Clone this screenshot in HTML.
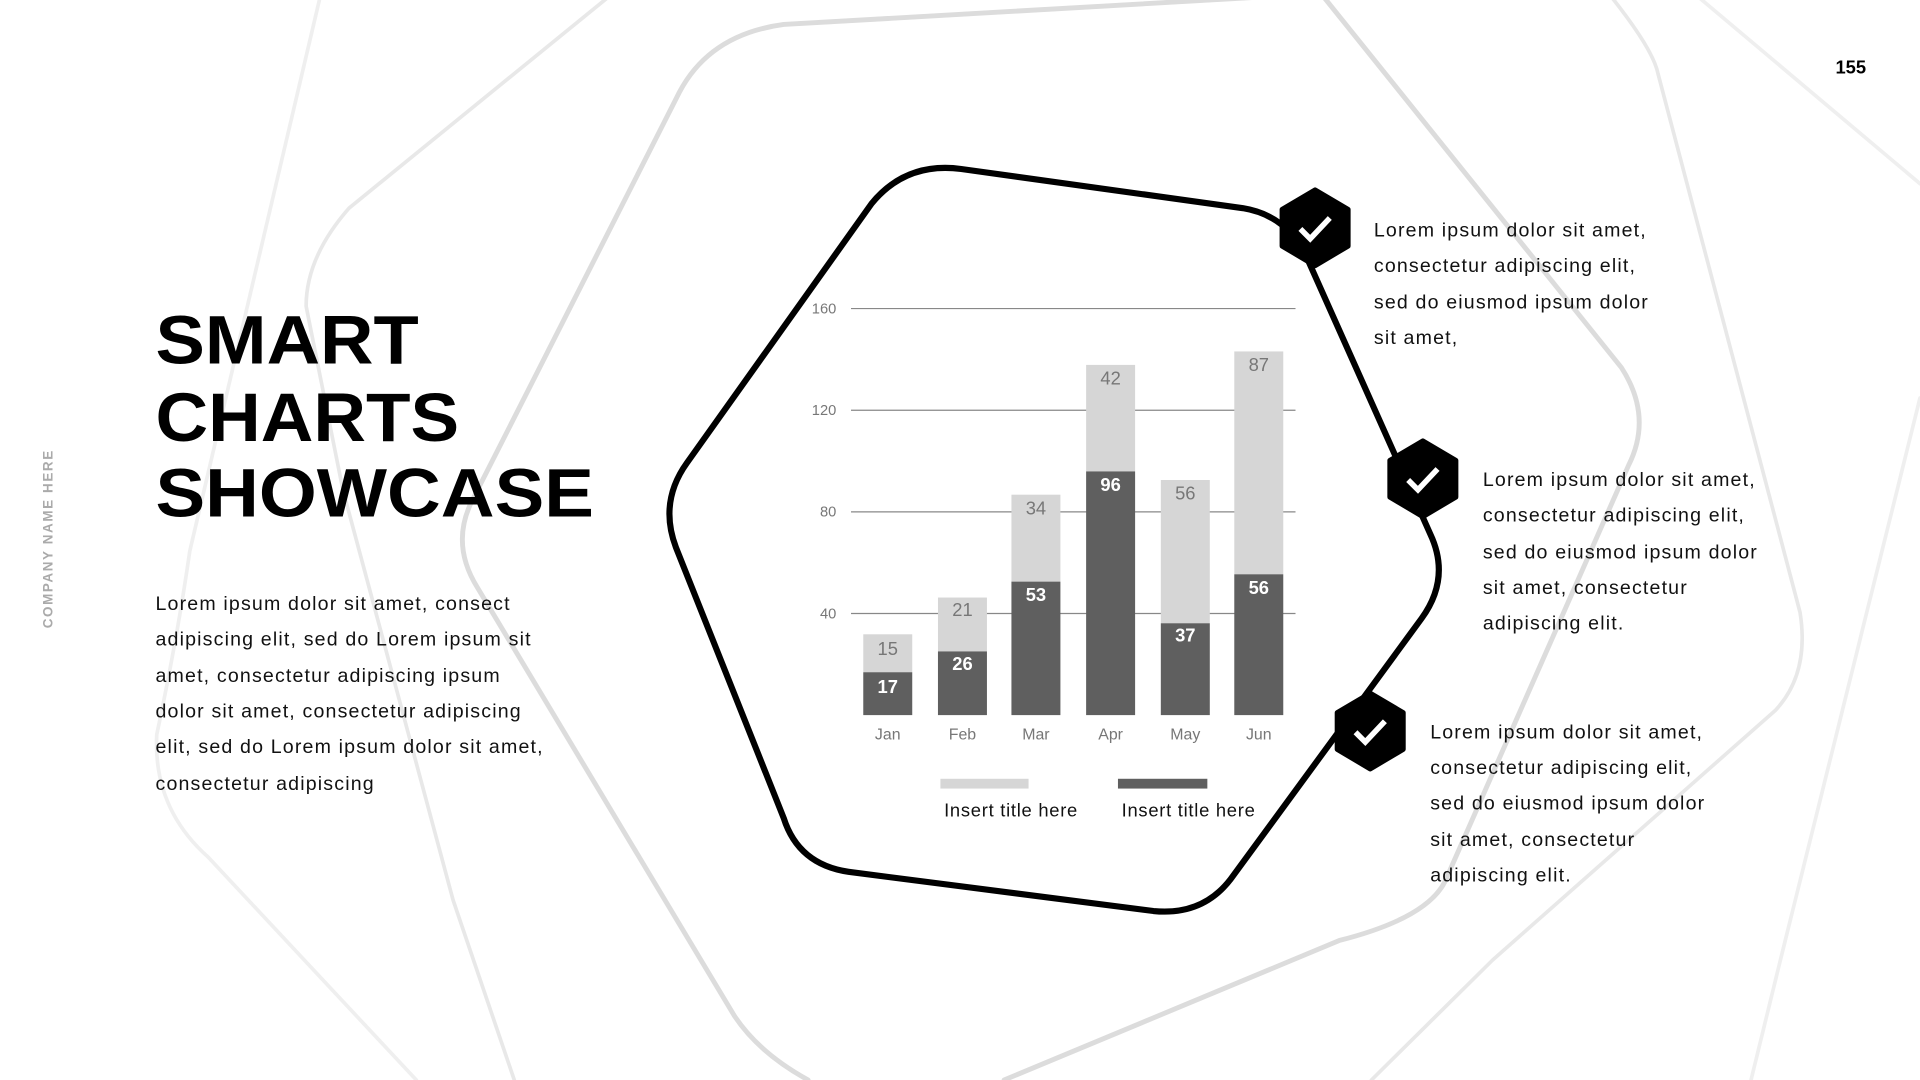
<!DOCTYPE html>
<html><head><meta charset="utf-8"><style>
html,body{margin:0;padding:0;background:#fff;}
svg{display:block;}
text{font-family:"Liberation Sans",sans-serif;}
</style></head><body>
<svg width="1920" height="1080" viewBox="0 0 1568 882" xmlns="http://www.w3.org/2000/svg">
<rect width="1568" height="882" fill="#fff"/>
<g fill="none" stroke-linejoin="round" stroke-linecap="round">
 <path d="M262,-5 L155,450 Q145,520 128,600 Q125,660 170,700 L340,882" stroke="#efefef" stroke-width="3"/>
 <path d="M500,-5 L285,170 Q250,210 250,250 L280,400 L370,735 L420,882" stroke="#e8e8e8" stroke-width="3"/>
 <path d="M1314,-5 Q1350,40 1354,60 L1470,500 Q1478,550 1450,580 L1219,784 L1120,882" stroke="#e8e8e8" stroke-width="3"/>
 <path d="M1384,-5 L1568,150" stroke="#efefef" stroke-width="3"/>
 <path d="M1568,325 L1454,784 L1430,882" stroke="#efefef" stroke-width="3"/>
 <path d="M1040,-3 L640,20 Q580,28 555,75 L385,410 Q368,445 390,480 L600,830 Q620,860 660,882" stroke="#dcdcdc" stroke-width="4"/>
 <path d="M1079,-5 L1324,300 Q1350,340 1330,380 L1180,720 Q1165,750 1094,768 L820,882" stroke="#dcdcdc" stroke-width="4"/>
</g>

<path d="M712,166 Q740,132 785,138 L1015,170 Q1052,176 1068,212 L1168,436 Q1185,472 1161,505 L1005,718 Q982,748 942,744 L693,712 Q652,706 640,668 L552,447 Q538,410 561,378 Z" fill="none" stroke="#000" stroke-width="5" stroke-linejoin="round"/>

<g stroke="#888" stroke-width="1">
 <line x1="695" y1="252" x2="1058" y2="252"/>
 <line x1="695" y1="335" x2="1058" y2="335"/>
 <line x1="695" y1="418" x2="1058" y2="418"/>
 <line x1="695" y1="501" x2="1058" y2="501"/>
</g>
<g font-size="12" fill="#777" text-anchor="end">
 <text x="683" y="256">160</text><text x="683" y="339">120</text><text x="683" y="422">80</text><text x="683" y="505">40</text>
</g>
<g>
 <rect x="705" y="518" width="40" height="31" fill="#d6d6d6"/><rect x="705" y="549" width="40" height="35" fill="#5f5f5f"/>
 <rect x="766" y="488" width="40" height="44" fill="#d6d6d6"/><rect x="766" y="532" width="40" height="52" fill="#5f5f5f"/>
 <rect x="826" y="404" width="40" height="71" fill="#d6d6d6"/><rect x="826" y="475" width="40" height="109" fill="#5f5f5f"/>
 <rect x="887" y="298" width="40" height="87" fill="#d6d6d6"/><rect x="887" y="385" width="40" height="199" fill="#5f5f5f"/>
 <rect x="948" y="392" width="40" height="117" fill="#d6d6d6"/><rect x="948" y="509" width="40" height="75" fill="#5f5f5f"/>
 <rect x="1008" y="287" width="40" height="182" fill="#d6d6d6"/><rect x="1008" y="469" width="40" height="115" fill="#5f5f5f"/>
</g>
<g font-size="15" text-anchor="middle">
 <g fill="#777"><text x="725" y="535">15</text><text x="786" y="503">21</text><text x="846" y="420">34</text><text x="907" y="314">42</text><text x="968" y="408">56</text><text x="1028" y="303">87</text></g>
 <g fill="#fff" font-weight="bold"><text x="725" y="566">17</text><text x="786" y="547">26</text><text x="846" y="491">53</text><text x="907" y="401">96</text><text x="968" y="524">37</text><text x="1028" y="485">56</text></g>
 <g fill="#777" font-size="13"><text x="725" y="604">Jan</text><text x="786" y="604">Feb</text><text x="846" y="604">Mar</text><text x="907" y="604">Apr</text><text x="968" y="604">May</text><text x="1028" y="604">Jun</text></g>
</g>
<rect x="768" y="636" width="72" height="8" fill="#d6d6d6"/>
<rect x="913" y="636" width="73" height="8" fill="#5f5f5f"/>
<g font-size="15" fill="#111" letter-spacing="0.6"><text x="771" y="667">Insert title here</text><text x="916" y="667">Insert title here</text></g>

<g>
 <g transform="translate(1074,186)"><polygon points="0,-31 27,-15 27,15 0,31 -27,15 -27,-15" fill="#000" stroke="#000" stroke-width="4" stroke-linejoin="round"/><path d="M-12,1 L-4,9 L12,-8" fill="none" stroke="#fff" stroke-width="4.5"/></g>
 <g transform="translate(1162,391)"><polygon points="0,-31 27,-15 27,15 0,31 -27,15 -27,-15" fill="#000" stroke="#000" stroke-width="4" stroke-linejoin="round"/><path d="M-12,1 L-4,9 L12,-8" fill="none" stroke="#fff" stroke-width="4.5"/></g>
 <g transform="translate(1119,597)"><polygon points="0,-31 27,-15 27,15 0,31 -27,15 -27,-15" fill="#000" stroke="#000" stroke-width="4" stroke-linejoin="round"/><path d="M-12,1 L-4,9 L12,-8" fill="none" stroke="#fff" stroke-width="4.5"/></g>
</g>
<g font-size="16" fill="#111" letter-spacing="0.95">
 <text x="1122" y="193">Lorem ipsum dolor sit amet,</text>
 <text x="1122" y="222">consectetur adipiscing elit,</text>
 <text x="1122" y="252">sed do eiusmod ipsum dolor</text>
 <text x="1122" y="281">sit amet,</text>
 <text x="1211" y="397">Lorem ipsum dolor sit amet,</text>
 <text x="1211" y="426">consectetur adipiscing elit,</text>
 <text x="1211" y="456">sed do eiusmod ipsum dolor</text>
 <text x="1211" y="485">sit amet, consectetur</text>
 <text x="1211" y="514">adipiscing elit.</text>
 <text x="1168" y="603">Lorem ipsum dolor sit amet,</text>
 <text x="1168" y="632">consectetur adipiscing elit,</text>
 <text x="1168" y="661">sed do eiusmod ipsum dolor</text>
 <text x="1168" y="691">sit amet, consectetur</text>
 <text x="1168" y="720">adipiscing elit.</text>
</g>

<g font-size="56" font-weight="bold" fill="#000">
 <text x="127" y="297" textLength="215" lengthAdjust="spacingAndGlyphs">SMART</text>
 <text x="127" y="360" textLength="248" lengthAdjust="spacingAndGlyphs">CHARTS</text>
 <text x="127" y="422" textLength="358" lengthAdjust="spacingAndGlyphs">SHOWCASE</text>
</g>
<g font-size="16" fill="#111" letter-spacing="0.95">
 <text x="127" y="498">Lorem ipsum dolor sit amet, consect</text>
 <text x="127" y="527">adipiscing elit, sed do Lorem ipsum sit</text>
 <text x="127" y="557">amet, consectetur adipiscing ipsum</text>
 <text x="127" y="586">dolor sit amet, consectetur adipiscing</text>
 <text x="127" y="615">elit, sed do Lorem ipsum dolor sit amet,</text>
 <text x="127" y="645">consectetur adipiscing</text>
</g>
<text transform="translate(43,440) rotate(-90)" text-anchor="middle" font-size="11" font-weight="bold" fill="#aaa" letter-spacing="1.3">COMPANY NAME HERE</text>
<text x="1524" y="60" text-anchor="end" font-size="15" font-weight="bold" fill="#000">155</text>
</svg>
</body></html>
